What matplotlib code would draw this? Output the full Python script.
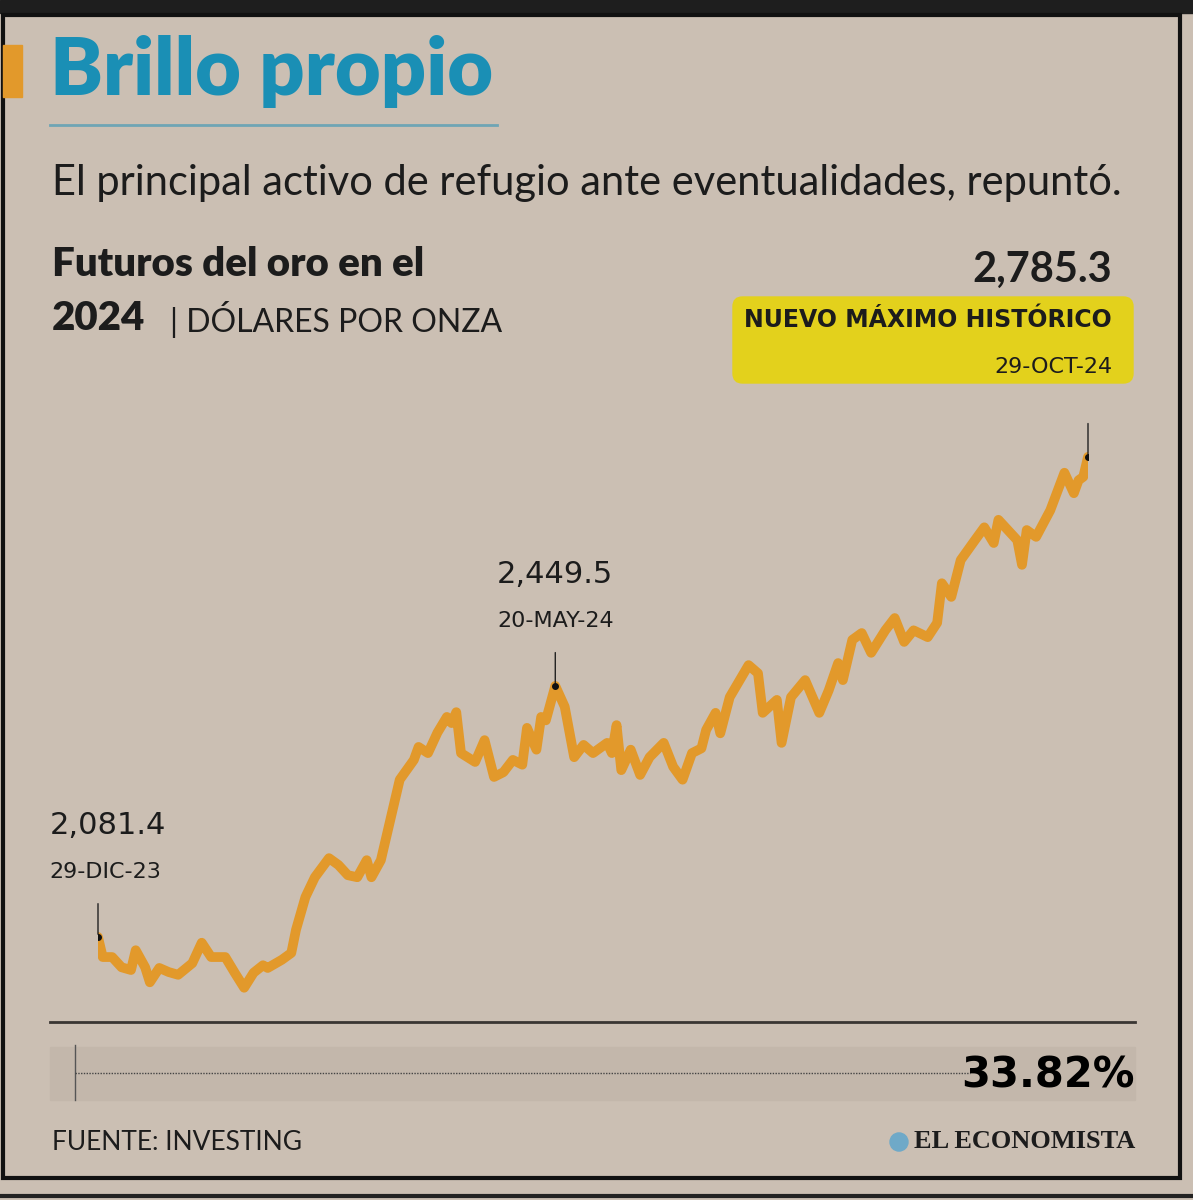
import matplotlib
matplotlib.use('Agg')
import matplotlib.pyplot as plt
from matplotlib.patches import Rectangle, FancyBboxPatch, Circle
from matplotlib.lines import Line2D

# Futuros del oro 2024 (USD por onza)
dias = [0, 1, 3, 5, 7, 8, 10, 11, 13, 15, 17, 20, 22, 24, 27, 29, 31, 33, 35, 36,
        39, 41, 42, 44, 46, 49, 51, 53, 55, 57, 58, 60, 62, 64, 67, 68, 70, 72, 74, 75,
        76, 77, 80, 82, 84, 86, 88, 90, 91, 93, 94, 95, 97, 99, 101, 103, 105, 108, 109, 110,
        111, 113, 115, 117, 120, 122, 124, 126, 128, 129, 131, 132, 134, 138, 140, 141, 144, 145, 147, 150,
        153, 155, 157, 158, 160, 162, 164, 167, 169, 171, 173, 176, 178, 179, 181, 183, 186, 188, 190, 191,
        193, 195, 196, 197, 199, 202, 205, 207, 208, 209, 210]
precio = [2081.4, 2052, 2052, 2037, 2033, 2062, 2037, 2015, 2036, 2030, 2026, 2043, 2073, 2052, 2052, 2029, 2007, 2029, 2040, 2036,
          2048, 2058, 2092, 2140, 2169, 2197, 2187, 2172, 2169, 2194, 2169, 2194, 2253, 2312, 2341, 2360, 2351, 2381, 2404, 2395,
          2411, 2351, 2338, 2370, 2316, 2323, 2341, 2334, 2388, 2356, 2404, 2399, 2449.5, 2419, 2345, 2363, 2351, 2366, 2351, 2392,
          2326, 2356, 2319, 2345, 2366, 2331, 2312, 2351, 2358, 2385, 2410, 2380, 2433, 2480, 2468, 2410, 2429, 2366, 2433, 2458,
          2410, 2443, 2483, 2458, 2517, 2527, 2498, 2531, 2549, 2514, 2531, 2521, 2542, 2600, 2580, 2634, 2663, 2682, 2659, 2693,
          2678, 2663, 2627, 2678, 2668, 2707, 2762, 2732, 2751, 2756, 2785.3]

destacados = [(0, 2081.4, '2,081.4', '29-DIC-23'),
              (97, 2449.5, '2,449.5', '20-MAY-24')]
maximo = (210, 2785.3, '2,785.3', '29-OCT-24')
variacion = '33.82%'

BG = '#cbbfb3'
ORO = '#e2992b'
AZUL = '#1a8fb5'
TXT = '#1c1c1c'
W, H = 1193, 1200
COND = ['DejaVu Sans Condensed', 'DejaVu Sans']

fig = plt.figure(figsize=(W / 100, H / 100), dpi=100)
fig.patch.set_facecolor(BG)


def px(x, y):
    return x / W, 1 - y / H


def txt(x, y, s, **kw):
    fx, fy = px(x, y)
    fig.text(fx, fy, s, **kw)


def hline(x0, x1, y, **kw):
    fig.add_artist(Line2D([x0 / W, x1 / W], [1 - y / H, 1 - y / H], **kw))


# marco
fig.add_artist(Rectangle((0, 1 - 13 / H), 1, 13 / H, color='#1e1e1e'))
fig.add_artist(Rectangle(px(3, 1178), 1177 / W, 1163 / H, fill=False, ec='#111', lw=3))
hline(0, W, 1196, color='#222', lw=3)

# encabezado
fig.add_artist(Rectangle(px(3, 97), 19 / W, 52 / H, color=ORO))
txt(50, 72, 'Brillo propio', fontsize=57, fontweight='heavy', color=AZUL,
    family='Lato', va='center')
hline(50, 497, 125, color='#6ea5b5', lw=2)
txt(52, 183, 'El principal activo de refugio ante eventualidades, repuntó.',
    fontsize=30, color=TXT, family='Lato', va='center')
txt(52, 264, 'Futuros del oro en el', fontsize=29, fontweight='heavy', color=TXT,
    family='Lato', va='center')
txt(52, 319, '2024', fontsize=29, fontweight='heavy', color=TXT, family='Lato', va='center')
txt(170, 319, '| DÓLARES POR ONZA', fontsize=23, color=TXT, family='Lato', va='center')

# recuadro del maximo
fig.add_artist(FancyBboxPatch(px(733, 383), 400 / W, 86 / H,
                              boxstyle='round,pad=0,rounding_size=0.008',
                              color='#e3d11c', transform=fig.transFigure))
txt(1112, 270, maximo[2], fontsize=30, fontweight='bold', color=TXT, ha='right',
    va='center', family='Lato')
txt(1112, 320, 'NUEVO MÁXIMO HISTÓRICO', fontsize=17, fontweight='bold', color=TXT,
    ha='right', va='center', family=COND)
txt(1112, 367, maximo[3], fontsize=16, color=TXT, ha='right', va='center', family=COND)

# grafico
ax = fig.add_axes([98 / W, 1 - 1000 / H, 990 / W, 580 / H])
ax.set_facecolor('none')
ax.plot(dias, precio, color=ORO, lw=7, solid_joinstyle='round', solid_capstyle='round')
ax.set_xlim(0, 210)
ax.set_ylim(2081.4 - 63 * 1.466, 2081.4 + 517 * 1.466)
ax.axis('off')

for d, v, lab, fecha in destacados + [maximo]:
    ax.plot(d, v, 'o', color='#111', ms=4, zorder=5)
    ax.annotate('', xy=(d, v), xytext=(0, 26), textcoords='offset points',
                arrowprops=dict(arrowstyle='-', color='#222', lw=1))
for d, v, lab, fecha in destacados:
    ha = 'left' if d == 0 else 'center'
    dx = -35 if d == 0 else 0
    ax.annotate(lab, xy=(d, v), xytext=(dx, 80), textcoords='offset points',
                fontsize=22, ha=ha, va='center', color=TXT, family=COND)
    ax.annotate(fecha, xy=(d, v), xytext=(dx, 47), textcoords='offset points',
                fontsize=16, ha=ha, va='center', color=TXT, family=COND)

# pie
hline(50, 1135, 1022, color='#3a3633', lw=2)
fig.add_artist(Rectangle(px(50, 1100), 1085 / W, 53 / H, color='#c3b7ab'))
fig.add_artist(Line2D([75 / W] * 2, [1 - 1045 / H, 1 - 1100 / H], color='#555', lw=1))
hline(75, 970, 1073, color='#444', lw=1, ls=(0, (1, 1)))
txt(1135, 1076, variacion, fontsize=30, fontweight='bold', color='#000', ha='right',
    va='center', family=COND)
txt(52, 1142, 'FUENTE: INVESTING', fontsize=19, color=TXT, ha='left', va='center',
    family='Lato')
txt(1135, 1142, 'EL ECONOMISTA', fontsize=19, fontweight='bold', color=TXT, ha='right',
    va='center', family='Liberation Serif')
fig.add_artist(Circle(px(899, 1142), 9 / W, color='#6fa9c8', transform=fig.transFigure))

fig.savefig('out.png', dpi=100, facecolor=BG)
